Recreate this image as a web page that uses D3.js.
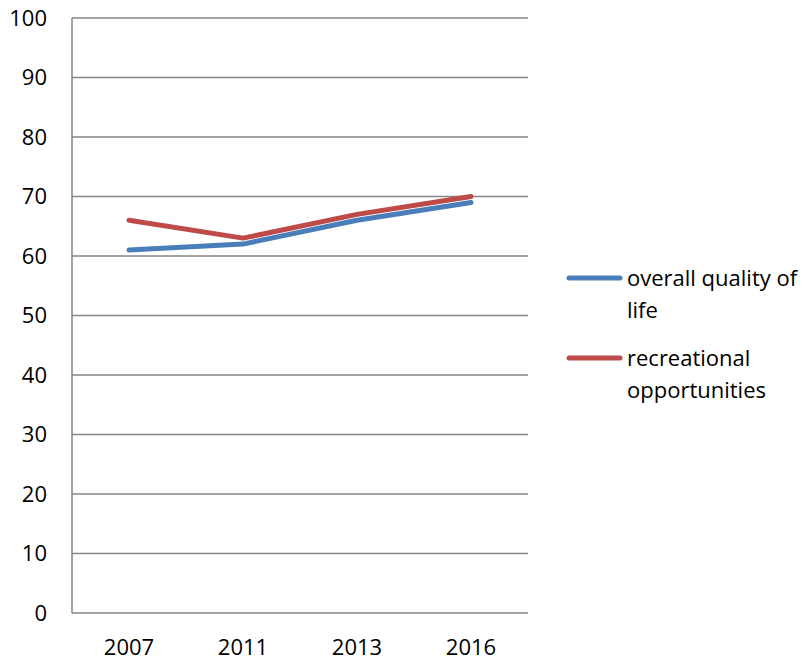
<!DOCTYPE html>
<html><head><meta charset="utf-8">
<script src="https://cdn.jsdelivr.net/npm/d3@7"></script>
<style>body{margin:0;background:#fff}text{font-family:"Open Sans",sans-serif}</style>
</head><body>
<svg id="c" width="812" height="661"></svg>
<script>
const categories = ["2007","2011","2013","2016"];
const overallQuality = [61,62,66,69];
const recreational = [66,63,67,70];
const seriesNames = ["overall quality of life","recreational opportunities"];
const yTicks = [0,10,20,30,40,50,60,70,80,90,100];

const svg = d3.select("#c");
const L = 72, R = 528, T = 18, B = 613;
const x = d3.scaleBand().domain(categories).range([L,R]);
const y = d3.scaleLinear().domain([0,100]).range([B,T]);
const fs = 22;

// grid
svg.append("g").selectAll("line").data(yTicks).join("line")
  .attr("x1",L).attr("x2",R).attr("y1",d=>y(d)).attr("y2",d=>y(d))
  .attr("stroke","#868686").attr("stroke-width",1.5);
svg.append("line").attr("x1",L).attr("x2",L).attr("y1",T).attr("y2",B)
  .attr("stroke","#868686").attr("stroke-width",1.5);

// y labels
const yAxis = d3.axisLeft(y).tickValues(yTicks).tickSize(0).tickPadding(0);
const gy = svg.append("g").attr("transform",`translate(${L-25},0)`).call(yAxis);
gy.select(".domain").remove();
gy.selectAll("text").attr("font-size",fs).attr("font-family","Open Sans").attr("fill","#000");

// x labels
const xAxis = d3.axisBottom(x).tickSize(0).tickPadding(0);
const gx = svg.append("g").attr("transform",`translate(0,${B+26})`).call(xAxis);
gx.select(".domain").remove();
gx.selectAll("text").attr("font-size",fs).attr("font-family","Open Sans").attr("fill","#000");

const colors = ["#4a7ebb","#be4b48"];
const series = [overallQuality, recreational];
const line = d3.line().x((d,i)=>x(categories[i])+x.bandwidth()/2).y(d=>y(d));
series.forEach((s,k)=>{
  svg.append("path").datum(s).attr("d",line).attr("fill","none")
    .attr("stroke",colors[k]).attr("stroke-width",5).attr("stroke-linecap","round").attr("stroke-linejoin","round");
});

// legend
const leg = [
  {lines:["overall quality of","life"], y:278},
  {lines:["recreational","opportunities"], y:358}
];
leg.forEach((l,k)=>{
  svg.append("line").attr("x1",569).attr("x2",620).attr("y1",l.y).attr("y2",l.y)
    .attr("stroke",colors[k]).attr("stroke-width",5).attr("stroke-linecap","round");
  const t = svg.append("text").attr("x",627).attr("y",l.y+8).attr("font-size",fs).attr("fill","#000");
  l.lines.forEach((ln,i)=>t.append("tspan").attr("x",627).attr("dy",i?32:0).text(ln));
});
</script>
</body></html>
